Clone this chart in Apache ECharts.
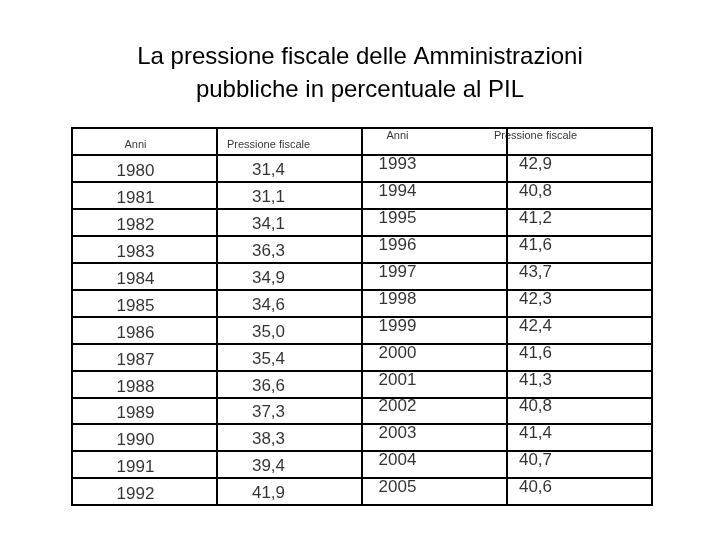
<!DOCTYPE html>
<html><head><meta charset="utf-8">
<script src="https://cdn.jsdelivr.net/npm/echarts@6/dist/echarts.min.js"></script>
<style>html,body{margin:0;background:#fff}#c{width:720px;height:540px}</style>
</head><body><div id="c"></div>
<script>
var headersA = ['Anni', 'Pressione fiscale'];
var headersB = ['Anni', 'Pressione fiscale'];
var yearsA = ['1980','1981','1982','1983','1984','1985','1986','1987','1988','1989','1990','1991','1992'];
var valuesA = ['31,4','31,1','34,1','36,3','34,9','34,6','35,0','35,4','36,6','37,3','38,3','39,4','41,9'];
var yearsB = ['1993','1994','1995','1996','1997','1998','1999','2000','2001','2002','2003','2004','2005'];
var valuesB = ['42,9','40,8','41,2','41,6','43,7','42,3','42,4','41,6','41,3','40,8','41,4','40,7','40,6'];

var rows = ['h'];
for (var i = 0; i < yearsA.length; i++) rows.push('r' + i);

function textSeries(data, dx, dy, size) {
    return {
        type: 'scatter', symbolSize: 0, data: data, silent: true,
        label: { show: true, position: 'inside', offset: [dx, dy], color: '#000',
                 fontFamily: 'Liberation Sans', fontSize: size,
                 formatter: function(p){ return p.data[2]; } }
    };
}
function col(ci, arr, dx, dy) {
    var d = [];
    for (var i = 0; i < arr.length; i++) d.push([ci, i + 1, arr[i]]);
    return textSeries(d, dx, dy, 17);
}

var chart = echarts.init(document.getElementById('c'));
chart.setOption({
    animation: false,
    title: { text: 'La pressione fiscale delle Amministrazioni\npubbliche in percentuale al PIL', left: 'center', top: 36,
             textStyle: { fontFamily: 'Liberation Sans', fontWeight: 'normal', fontSize: 24, color: '#000', lineHeight: 33 } },
    grid: { left: 72, top: 128, width: 580, height: 377, show: true, borderColor: '#000', borderWidth: 2 },
    xAxis: { type: 'category', data: [0,1,2,3], boundaryGap: true, axisLine: { show: false }, axisTick: { show: false },
             axisLabel: { show: false }, splitLine: { show: true, interval: 0, lineStyle: { color: '#000', width: 2 } } },
    yAxis: { type: 'category', data: rows, inverse: true, boundaryGap: true, axisLine: { show: false }, axisTick: { show: false },
             axisLabel: { show: false }, splitLine: { show: true, interval: 0, lineStyle: { color: '#000', width: 2 } } },
    series: [
        textSeries([[0, 0, headersA[0]]], -9, 4, 11),
        textSeries([[1, 0, headersA[1]]], -21, 4, 11),
        textSeries([[2, 0, headersB[0]]], -37, -5, 11),
        textSeries([[3, 0, headersB[1]]], -44, -5, 11),
        col(0, yearsA, -9, 3), col(1, valuesA, -21, 2), col(2, yearsB, -37, -4), col(3, valuesB, -44, -4)
    ]
});
</script></body></html>
